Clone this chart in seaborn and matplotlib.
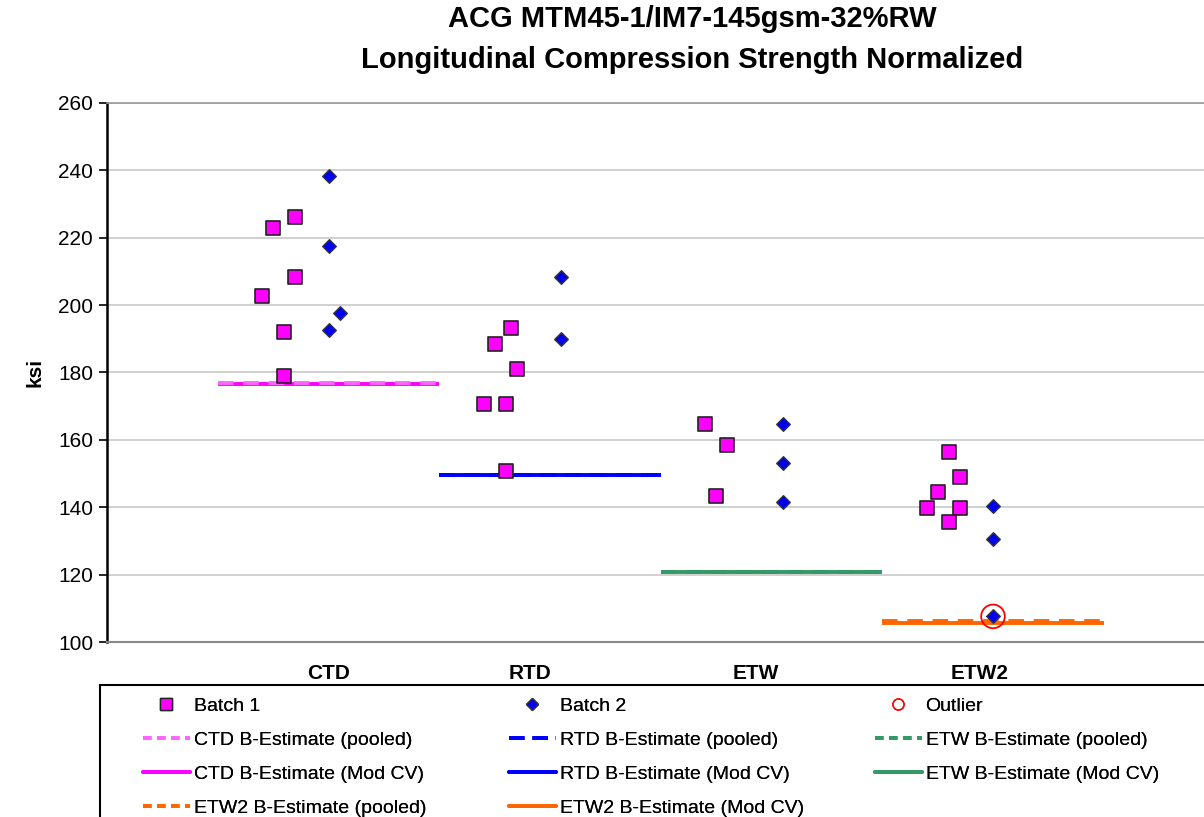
import numpy as np
import pandas as pd
import matplotlib
matplotlib.use("Agg")
import matplotlib.pyplot as plt
import seaborn as sns
from matplotlib.lines import Line2D
from matplotlib.patches import Rectangle

# Conditions
conditions = ['CTD', 'RTD', 'ETW', 'ETW2']

# Batch 1 points (x = condition index + offset, ksi)
b1_x = [0.75, 0.85, 0.85, 0.70, 0.80, 0.80,
        1.825, 1.75, 1.85, 1.70, 1.80, 1.80,
        2.70, 2.80, 2.75,
        3.80, 3.85, 3.75, 3.70, 3.85, 3.80]
b1_y = [222.8, 226.1, 208.4, 202.8, 191.9, 179.0,
        193.3, 188.4, 181.0, 170.7, 170.7, 150.8,
        164.7, 158.5, 143.3,
        156.4, 149.0, 144.5, 139.7, 139.9, 135.7]

# Batch 2 points
b2_x = [1.0, 1.0, 1.05, 1.0,
        2.05, 2.05,
        3.05, 3.05, 3.05,
        4.0, 4.0, 4.0]
b2_y = [238.3, 217.6, 197.7, 192.7,
        208.4, 190.0,
        164.7, 153.2, 141.5,
        140.3, 130.6, 107.6]

# Outlier
out_x = [4.0]
out_y = [107.6]

# B-estimates per condition
b_pooled = [176.9, 149.7, 120.9, 106.2]
b_modcv = [176.6, 149.5, 120.8, 105.7]
line_colors = ['#FF00FF', '#0000FF', '#339966', '#FF6600']
pooled_colors = ['#FF66FF', '#0000FF', '#339966', '#FF6600']

df1 = pd.DataFrame({'x': b1_x, 'ksi': b1_y})
df2 = pd.DataFrame({'x': b2_x, 'ksi': b2_y})

sns.set_style('white')
plt.rcParams['font.family'] = ['Liberation Sans', 'DejaVu Sans']
plt.rcParams['text.color'] = 'black'
plt.rcParams['axes.labelcolor'] = 'black'
plt.rcParams['xtick.color'] = 'black'
plt.rcParams['ytick.color'] = 'black'

W, H = 1204, 817
fig = plt.figure(figsize=(W / 100, H / 100), dpi=100)
ax = fig.add_axes([107 / W, 1 - 642 / H, 1 - 107 / W, (642 - 103) / H])

# B-estimate lines
for i, c in enumerate(conditions):
    x0, x1 = i + 0.5, i + 1.5
    ax.hlines(b_modcv[i], x0, x1, colors=line_colors[i], lw=2.8, zorder=2)
    ax.hlines(b_pooled[i], x0, x1, colors=pooled_colors[i], lw=2.8,
              linestyles=(0, (4, 2.5)), zorder=2.1)

sns.scatterplot(data=df1, x='x', y='ksi', marker='s', s=95, color='#FF00FF',
                edgecolor='#222222', linewidth=1.2, ax=ax, zorder=4)
sns.scatterplot(data=df2, x='x', y='ksi', marker='D', s=48, color='#0000EE',
                edgecolor='#333333', linewidth=1.0, ax=ax, zorder=5)
ax.scatter(out_x, out_y, s=290, facecolors='none', edgecolors='#FF0000',
           linewidths=1.3, zorder=6)

ax.set_xlim(0, (W - 107) / 221.5)
ax.set_ylim(100, 260)
ax.set_yticks(np.arange(100, 261, 20))
ax.tick_params(axis='y', labelsize=15, length=6, width=1.2, direction='out',
               left=True, color='black', pad=4)
ax.set_xticks([1, 1.91, 2.93, 3.94])
ax.set_xticklabels(conditions, fontsize=15, fontweight='bold')
ax.tick_params(axis='x', length=0, pad=16)
ax.set_xlabel('')
ax.set_ylabel('ksi', fontsize=15, fontweight='bold', labelpad=10)
ax.yaxis.grid(True, color='#C8C8C8', lw=1.2)
ax.set_axisbelow(True)
ax.spines['left'].set_color('black')
ax.spines['left'].set_linewidth(1.8)
ax.spines['bottom'].set_color('#888888')
ax.spines['bottom'].set_linewidth(1.5)
ax.spines['top'].set_color('#999999')
ax.spines['top'].set_linewidth(1.2)
ax.spines['right'].set_visible(False)

# Title
fig.text(692 / W, 1 - 19 / H, 'ACG MTM45-1/IM7-145gsm-32%RW', ha='center',
         va='center', fontsize=21, fontweight='bold')
fig.text(692 / W, 1 - 60 / H, 'Longitudinal Compression Strength Normalized',
         ha='center', va='center', fontsize=21, fontweight='bold')

# Legend box
fig.add_artist(Rectangle((100 / W, -0.1), 1.2, (H - 685) / H + 0.1,
                         transform=fig.transFigure, fill=False,
                         ec='black', lw=1.5))


def mline(color, ls):
    return Line2D([], [], color=color, lw=2.8, ls=ls)


dash = (0, (2.2, 1.4))
col1 = [(Line2D([], [], marker='s', ls='', ms=9, mfc='#FF00FF', mec='#222222'), 'Batch 1'),
        (mline(pooled_colors[0], dash), 'CTD B-Estimate (pooled)'),
        (mline(line_colors[0], '-'), 'CTD B-Estimate (Mod CV)'),
        (mline(pooled_colors[3], dash), 'ETW2 B-Estimate (pooled)')]
col2 = [(Line2D([], [], marker='D', ls='', ms=6.5, mfc='#0000EE', mec='#333333'), 'Batch 2'),
        (mline(pooled_colors[1], (0, (4, 2))), 'RTD B-Estimate (pooled)'),
        (mline(line_colors[1], '-'), 'RTD B-Estimate (Mod CV)'),
        (mline(line_colors[3], '-'), 'ETW2 B-Estimate (Mod CV)')]
col3 = [(Line2D([], [], marker='o', ls='', ms=8, mfc='none', mec='#FF0000'), 'Outlier'),
        (mline(pooled_colors[2], dash), 'ETW B-Estimate (pooled)'),
        (mline(line_colors[2], '-'), 'ETW B-Estimate (Mod CV)')]

for items, xpx in [(col1, 143), (col2, 509), (col3, 875)]:
    leg = fig.legend([h for h, _ in items], [t for _, t in items],
                     loc='upper left', bbox_to_anchor=(xpx / W, 1 - 697 / H),
                     frameon=False, fontsize=14, handlelength=2.4,
                     handletextpad=0.2, labelspacing=0.85, borderaxespad=0,
                     borderpad=0)
    fig.add_artist(leg)

fig.savefig('out.png', dpi=100)
